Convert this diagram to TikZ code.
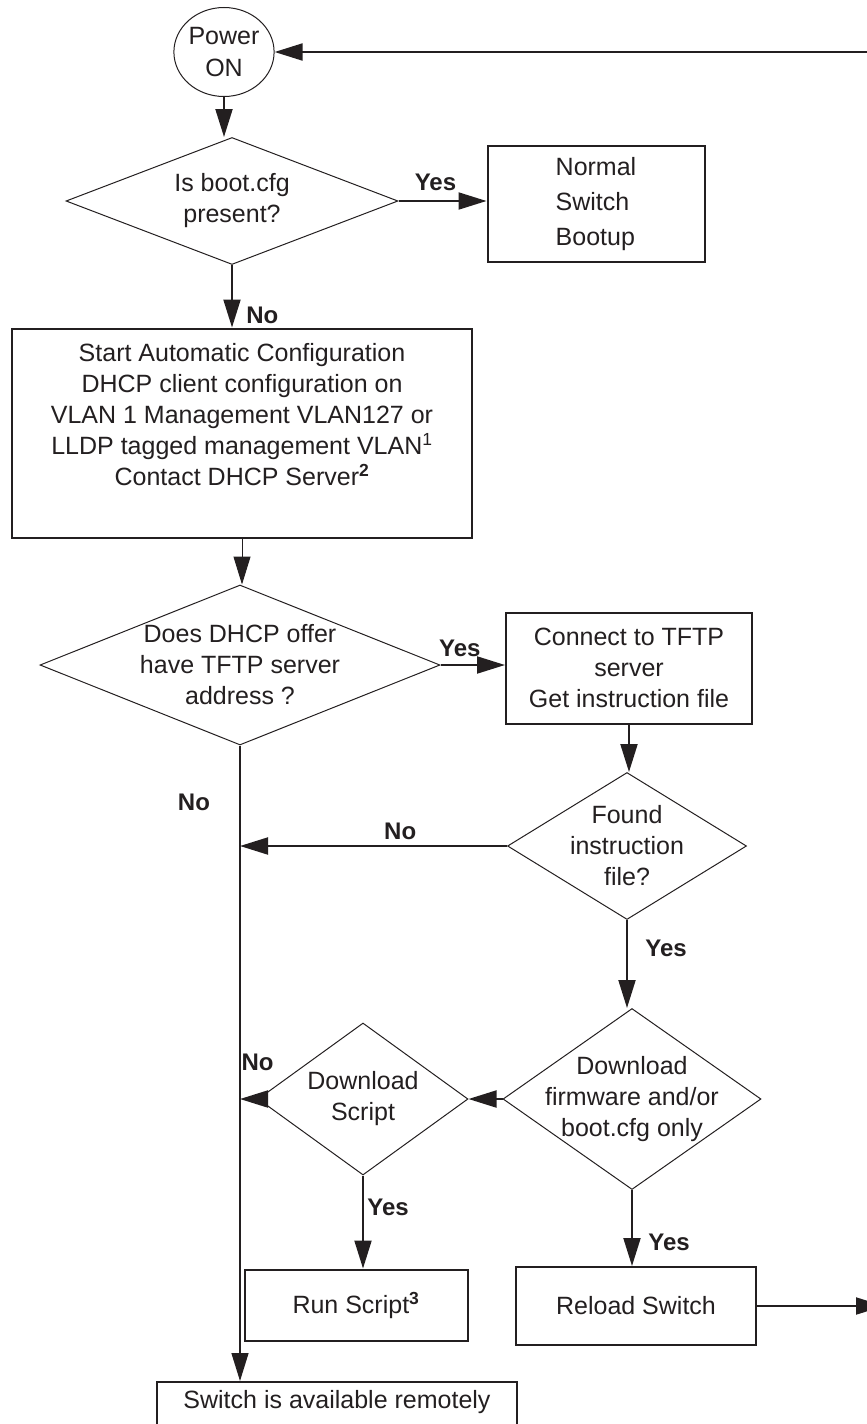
\documentclass[tikz,border=0pt]{standalone}
\usepackage{fontspec}
\setmainfont{Liberation Sans}
\usetikzlibrary{arrows.meta,shapes.geometric}
\definecolor{ink}{HTML}{231F20}

\begin{document}
\begin{tikzpicture}[x=1pt,y=-1pt,
  every node/.style={font=\fontsize{25}{31}\selectfont, text=ink},
  every label/.style={align=center},
  box/.style={draw=ink, line width=2pt, rectangle, inner sep=0pt, align=center},
  dec/.style={draw=ink, line width=1pt, diamond, inner sep=0pt},
  lbl/.style={font=\fontsize{24}{28}\selectfont\bfseries},
  flow/.style={draw=ink, line width=2pt, -{Triangle[length=28pt,width=17pt]}},
  flowthin/.style={flow, line width=1pt}]

\path[use as bounding box, clip] (0,0) rectangle (867,1424);

\node[draw=ink, line width=1pt, ellipse, minimum width=99pt, minimum height=89pt, inner sep=0pt, align=center, font=\fontsize{25}{32}\selectfont] (1) at (224,52) {Power\\ON};
\node[dec, minimum width=332pt, minimum height=127pt, label={center:Is boot.cfg\\present?}] (2) at (232,201) {};
\node[box, align=left, minimum width=217pt, minimum height=116pt, font=\fontsize{25}{35}\selectfont] (3) at (596,204) {Normal\\Switch\\Bootup};
\node[box, minimum width=460pt, minimum height=209pt, label={[yshift=18pt]center:Start Automatic Configuration\\DHCP client configuration on\\VLAN 1 Management VLAN127 or\\LLDP tagged management VLAN\textsuperscript{1}\\Contact DHCP Server\textsuperscript{\textbf{2}}}] (4) at (242,433) {};
\node[dec, minimum width=400pt, minimum height=160pt, label={center:Does DHCP offer\\have TFTP server\\address ?}] (5) at (240,665) {};
\node[box, minimum width=246pt, minimum height=111pt] (6) at (629,668) {Connect to TFTP\\server\\Get instruction file};
\node[dec, minimum width=239pt, minimum height=147pt, label={center:Found\\instruction\\file?}] (7) at (627,846) {};
\node[dec, minimum width=258pt, minimum height=181pt, label={center:Download\\firmware and/or\\boot.cfg only}] (8) at (632,1099) {};
\node[dec, minimum width=210pt, minimum height=152pt, label={center:Download\\Script}] (9) at (363,1099) {};
\node[box, minimum width=223pt, minimum height=71pt] (10) at (356,1305) {Run Script\textsuperscript{\textbf{3}}};
\node[box, minimum width=240pt, minimum height=78pt] (11) at (636,1306) {Reload Switch};
\node[box, minimum width=360pt, minimum height=60pt, label={[yshift=10pt]center:Switch is available remotely}] (12) at (337,1412) {};
\coordinate (r1) at (880,52);
\coordinate (r2) at (884,1302);

\draw[flow] (r1) -- (1.east);
\draw[flow] (1.south) -- (1.south |- 2.north);
\draw[flow] (2.east) -- (2.east -| 3.west) node[lbl, pos=0.42, above=6pt] {Yes};
\draw[flow] (2.south) -- (2.south |- 4.north) node[lbl, pos=0.8, right=10pt] {No};
\draw[flowthin] (4.south) -- (4.south |- 5.north);
\draw[flow] (5.east) -- (5.east -| 6.west) node[lbl, pos=0.3, above=4pt] {Yes};
\draw[flow] (6.south) -- (6.south |- 7.north);
\draw[flow, line width=1.4pt] (5.south) -- (5.south |- 12.north) node[lbl, pos=0.09, left=26pt] {No};
\draw[flow] (7.west) -- (7.west -| 5.south) node[lbl, pos=0.4, above=2pt] {No};
\draw[flow] (7.south) -- (7.south |- 8.north) node[lbl, pos=0.32, right=14pt] {Yes};
\draw[flow] (8.west) -- (9.east);
\draw[flow] (9.west) -- (9.west -| 5.south) node[lbl, pos=0, above=24pt] {No};
\draw[flow] (9.south) -- (9.south |- 10.north) node[lbl, pos=0.34, right] {Yes};
\draw[flow] (8.south) -- (8.south |- 11.north) node[lbl, pos=0.69, right=12pt] {Yes};
\draw[flow] (11.east) -- (11.east -| r2);

\end{tikzpicture}
\end{document}
